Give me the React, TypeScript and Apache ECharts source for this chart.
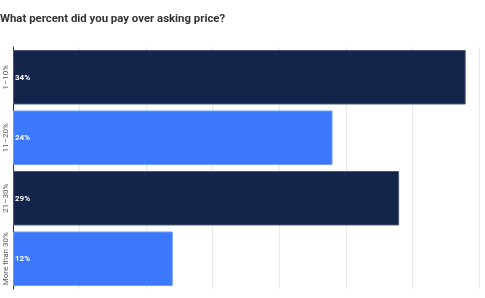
import React, { useEffect, useRef } from "react";
import * as echarts from "echarts";

const title = "What percent did you pay over asking price?";
const categories = ["1–10%", "11–20%", "21–30%", "More than 30%"];
const values = [34, 24, 29, 12];
const barColors = ["#13254a", "#3b78fb", "#13254a", "#3b78fb"];
const borderColors = ["#4a5875", "#6d9bfc", "#4a5875", "#6d9bfc"];
const xMax = 35;
const xInterval = 5;

export default function App() {
  const ref = useRef<HTMLDivElement>(null);
  useEffect(() => {
    if (!ref.current) return;
    const chart = echarts.init(ref.current, null, { renderer: "svg" });
    chart.setOption({
      animation: false,
      textStyle: { fontFamily: "Roboto" },
      title: {
        text: title,
        left: 0,
        top: 12,
        padding: 0,
        textStyle: { fontSize: 11.4, fontWeight: "bold", color: "#333333", fontFamily: "Roboto" },
      },
      grid: { left: 13, right: 6, top: 47, bottom: 9, containLabel: false },
      xAxis: {
        type: "value",
        min: 0,
        max: xMax,
        interval: xInterval,
        axisLabel: { show: false },
        axisLine: { show: false },
        axisTick: { show: false },
        splitLine: { show: true, lineStyle: { color: "#e8e8e8", width: 1 } },
      },
      yAxis: {
        type: "category",
        data: categories,
        inverse: true,
        axisLine: { show: true, lineStyle: { color: "#333333", width: 1 } },
        axisTick: { show: false },
        axisLabel: {
          rotate: 90,
          interval: 0,
          hideOverlap: false,
          fontSize: 8,
          color: "#555555",
          margin: 4,
          fontFamily: "Roboto",
        },
      },
      series: [
        {
          type: "bar",
          barCategoryGap: "10%",
          data: values.map((v, i) => ({
            value: v,
            itemStyle: { color: barColors[i], borderColor: borderColors[i], borderWidth: 1 },
          })),
          label: {
            show: true,
            position: "insideLeft",
            distance: 2,
            formatter: "{c}%",
            color: "#ffffff",
            fontSize: 8,
            fontWeight: "bold",
            fontFamily: "Roboto",
          },
        },
      ],
    });
    return () => chart.dispose();
  }, []);
  return (
    <div
      ref={ref}
      style={{ position: "fixed", left: 0, top: 0, width: 485, height: 298 }}
    />
  );
}
